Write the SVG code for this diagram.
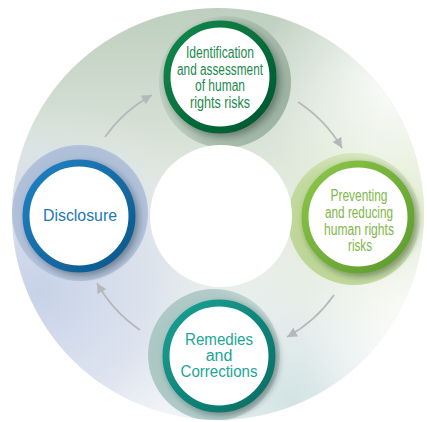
<svg xmlns="http://www.w3.org/2000/svg" width="427" height="422" viewBox="0 0 427 422">
<defs>
<style>
.lbl{font-family:"Liberation Sans",Arial,sans-serif;font-size:16px;text-anchor:middle}
.arr{fill:none;stroke:#b5b8ba;stroke-width:1.6;marker-end:url(#ah)}
</style>
<marker id="ah" markerUnits="userSpaceOnUse" markerWidth="12" markerHeight="12" refX="10" refY="5" orient="auto" viewBox="0 0 12 10">
<path d="M0,0 L10,5 L0,10 Z" fill="#b5b8ba"/>
</marker>
<clipPath id="ringClip"><circle cx="218" cy="214" r="206"/></clipPath>
<linearGradient id="baseG" x1="0" y1="0" x2="0" y2="1">
<stop offset="0" stop-color="#bccebd"/>
<stop offset="0.45" stop-color="#e2e9e0"/>
<stop offset="1" stop-color="#f4f6f9"/>
</linearGradient>
<radialGradient id="blueP" cx="40" cy="290" r="190" gradientUnits="userSpaceOnUse">
<stop offset="0" stop-color="#c7d2e8" stop-opacity="1"/>
<stop offset="0.6" stop-color="#d6deee" stop-opacity="0.7"/>
<stop offset="1" stop-color="#e6ebf4" stop-opacity="0"/>
</radialGradient>
<radialGradient id="greenP" cx="400" cy="200" r="160" gradientUnits="userSpaceOnUse">
<stop offset="0" stop-color="#dfecc9" stop-opacity="1"/>
<stop offset="1" stop-color="#e8f0dc" stop-opacity="0"/>
</radialGradient>
<radialGradient id="tealP" cx="290" cy="400" r="130" gradientUnits="userSpaceOnUse">
<stop offset="0" stop-color="#d2e3e3" stop-opacity="1"/>
<stop offset="1" stop-color="#dce8e8" stop-opacity="0"/>
</radialGradient>
<radialGradient id="whiteP" cx="400" cy="80" r="140" gradientUnits="userSpaceOnUse">
<stop offset="0" stop-color="#ffffff" stop-opacity="0.95"/>
<stop offset="1" stop-color="#ffffff" stop-opacity="0"/>
</radialGradient>
<radialGradient id="whiteP2" cx="420" cy="330" r="120" gradientUnits="userSpaceOnUse">
<stop offset="0" stop-color="#ffffff" stop-opacity="0.9"/>
<stop offset="1" stop-color="#ffffff" stop-opacity="0"/>
</radialGradient>
<radialGradient id="haloTop" cx="0.68" cy="0.55" r="0.62">
<stop offset="0" stop-color="#8ea493"/>
<stop offset="0.8" stop-color="#a9bdac"/>
<stop offset="1" stop-color="#bccdbe"/>
</radialGradient>
<radialGradient id="haloRight" cx="0.4" cy="0.6" r="0.6">
<stop offset="0" stop-color="#b2cf84"/>
<stop offset="0.8" stop-color="#c3daa0"/>
<stop offset="1" stop-color="#d6e6bf"/>
</radialGradient>
<radialGradient id="haloBottom" cx="0.4" cy="0.5" r="0.6">
<stop offset="0" stop-color="#9fbfbc"/>
<stop offset="0.8" stop-color="#b0cbc8"/>
<stop offset="1" stop-color="#c6d9d8"/>
</radialGradient>
<radialGradient id="haloLeft" cx="0.5" cy="0.5" r="0.6">
<stop offset="0" stop-color="#9fb3d0"/>
<stop offset="0.8" stop-color="#b0c0d9"/>
<stop offset="1" stop-color="#c4d0e3"/>
</radialGradient>
<linearGradient id="rTop" x1="0" y1="0" x2="1" y2="1">
<stop offset="0" stop-color="#0d8a4c"/><stop offset="1" stop-color="#00552e"/>
</linearGradient>
<linearGradient id="rRight" x1="0" y1="0" x2="1" y2="1">
<stop offset="0" stop-color="#8cc64a"/><stop offset="1" stop-color="#5c9a2c"/>
</linearGradient>
<linearGradient id="rBottom" x1="0" y1="0" x2="1" y2="1">
<stop offset="0" stop-color="#17a294"/><stop offset="1" stop-color="#0a6b62"/>
</linearGradient>
<linearGradient id="rLeft" x1="0" y1="0" x2="1" y2="1">
<stop offset="0" stop-color="#2282c4"/><stop offset="1" stop-color="#0b578a"/>
</linearGradient>
<filter id="sh" x="-30%" y="-30%" width="160%" height="160%">
<feDropShadow dx="3" dy="3" stdDeviation="3" flood-color="#1d2a22" flood-opacity="0.4"/>
</filter>
</defs>

<g id="background">
<g clip-path="url(#ringClip)">
<rect x="0" y="0" width="427" height="422" fill="url(#baseG)"/>
<rect x="0" y="0" width="427" height="422" fill="url(#blueP)"/>
<rect x="0" y="0" width="427" height="422" fill="url(#greenP)"/>
<rect x="0" y="0" width="427" height="422" fill="url(#tealP)"/>
<rect x="0" y="0" width="427" height="422" fill="url(#whiteP)"/>
<rect x="0" y="0" width="427" height="422" fill="url(#whiteP2)"/>
<circle cx="225" cy="82" r="66" fill="url(#haloTop)"/>
<circle cx="354" cy="219" r="66" fill="url(#haloRight)"/>
<circle cx="214" cy="355" r="66" fill="url(#haloBottom)"/>
<circle cx="80" cy="213" r="68" fill="url(#haloLeft)"/>
</g>
<circle cx="221" cy="216" r="71" fill="#ffffff"/>
</g>

<g id="connectors">
<path class="arr" d="M105,137 A139,139 0 0 1 152,95"/>
<path class="arr" d="M298,102 A139,139 0 0 1 342,148"/>
<path class="arr" d="M334,295 A139,139 0 0 1 287,337"/>
<path class="arr" d="M140,330 A139,139 0 0 1 97,283"/>
</g>

<g id="node-identification">
<circle cx="220" cy="77" r="53" fill="#ffffff" stroke="url(#rTop)" stroke-width="7" filter="url(#sh)"/>
<g class="lbl" fill="#1c8a4e">
<text x="220" y="58" textLength="68" lengthAdjust="spacingAndGlyphs">Identification</text>
<text x="220" y="74.5" textLength="86" lengthAdjust="spacingAndGlyphs">and assessment</text>
<text x="220" y="91" textLength="50" lengthAdjust="spacingAndGlyphs">of human</text>
<text x="220" y="108" textLength="60" lengthAdjust="spacingAndGlyphs">rights risks</text>
</g>
</g>

<g id="node-preventing">
<circle cx="358" cy="217" r="53" fill="#ffffff" stroke="url(#rRight)" stroke-width="7" filter="url(#sh)"/>
<g class="lbl" fill="#7fb749">
<text x="359" y="201" textLength="57" lengthAdjust="spacingAndGlyphs">Preventing</text>
<text x="359" y="218" textLength="68" lengthAdjust="spacingAndGlyphs">and reducing</text>
<text x="359" y="235" textLength="70" lengthAdjust="spacingAndGlyphs">human rights</text>
<text x="360" y="251" textLength="24" lengthAdjust="spacingAndGlyphs">risks</text>
</g>
</g>

<g id="node-remedies">
<circle cx="219" cy="356" r="53" fill="#ffffff" stroke="url(#rBottom)" stroke-width="7" filter="url(#sh)"/>
<g class="lbl" fill="#21a596">
<text x="219" y="345" textLength="68" lengthAdjust="spacingAndGlyphs">Remedies</text>
<text x="219" y="361">and</text>
<text x="219" y="377" textLength="77" lengthAdjust="spacingAndGlyphs">Corrections</text>
</g>
</g>

<g id="node-disclosure">
<circle cx="79" cy="216" r="53" fill="#ffffff" stroke="url(#rLeft)" stroke-width="7" filter="url(#sh)"/>
<text class="lbl" x="80" y="221" fill="#2178b8" textLength="74" lengthAdjust="spacingAndGlyphs">Disclosure</text>
</g>
</svg>
